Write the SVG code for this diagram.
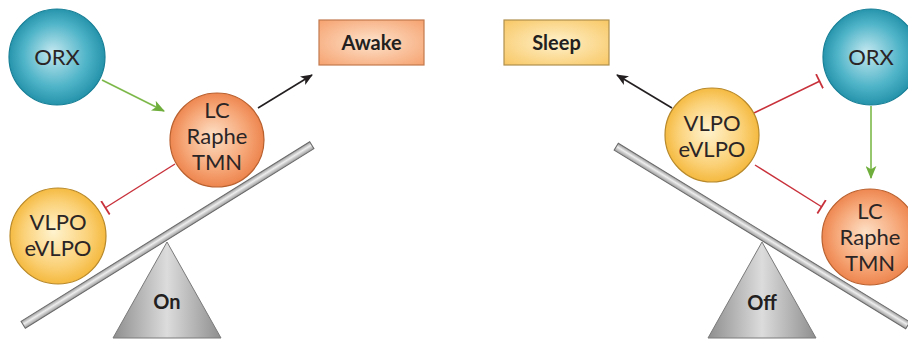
<svg xmlns="http://www.w3.org/2000/svg" width="908" height="342" viewBox="0 0 908 342">
<defs>
<radialGradient id="gTeal" cx="50%" cy="50%" r="55%" fx="45%" fy="45%">
<stop offset="0" stop-color="#c4e8f0"/><stop offset="0.6" stop-color="#4fb4c8"/><stop offset="1" stop-color="#1a8aa3"/>
</radialGradient>
<radialGradient id="gOrange" cx="50%" cy="50%" r="55%" fx="45%" fy="45%">
<stop offset="0" stop-color="#fde0c6"/><stop offset="0.6" stop-color="#f6a778"/><stop offset="1" stop-color="#eb7c43"/>
</radialGradient>
<radialGradient id="gYellow" cx="50%" cy="50%" r="55%" fx="45%" fy="45%">
<stop offset="0" stop-color="#fff3cf"/><stop offset="0.6" stop-color="#fbd27a"/><stop offset="1" stop-color="#f3b330"/>
</radialGradient>
<radialGradient id="gAwake" cx="50%" cy="50%" r="70%">
<stop offset="0" stop-color="#fde3cc"/><stop offset="1" stop-color="#f6a26f"/>
</radialGradient>
<radialGradient id="gSleep" cx="50%" cy="50%" r="70%">
<stop offset="0" stop-color="#fff1cb"/><stop offset="1" stop-color="#f8c764"/>
</radialGradient>
<linearGradient id="gTri" x1="0" y1="0" x2="1" y2="0">
<stop offset="0" stop-color="#8e8e8e"/><stop offset="0.5" stop-color="#dcdcdc"/><stop offset="1" stop-color="#8e8e8e"/>
</linearGradient>
<linearGradient id="gBeam" x1="0" y1="0" x2="0" y2="1">
<stop offset="0" stop-color="#9a9a9a"/><stop offset="0.45" stop-color="#eeeeee"/><stop offset="1" stop-color="#9a9a9a"/>
</linearGradient>
<marker id="arrBlack" viewBox="0 0 12 10" refX="11" refY="5" markerWidth="12" markerHeight="10" markerUnits="userSpaceOnUse" orient="auto">
<path d="M0,0 L12,5 L0,10 L3,5 Z" fill="#231f20"/>
</marker>
<marker id="arrGreen" viewBox="0 0 12 10" refX="11" refY="5" markerWidth="13" markerHeight="11" markerUnits="userSpaceOnUse" orient="auto">
<path d="M0,0 L12,5 L0,10 L3,5 Z" fill="#6fae3c"/>
</marker>
<marker id="barRed" viewBox="0 0 4 16" refX="2" refY="8" markerWidth="4" markerHeight="16" markerUnits="userSpaceOnUse" orient="auto">
<rect x="0.6" y="0" width="1.8" height="16" fill="#c8303a"/>
</marker>
</defs>
<style>
.node text{font-family:Lato,"Open Sans","Liberation Sans",sans-serif;font-size:22px;fill:#2b2526;text-anchor:middle}
.box text{font-family:Lato,"Open Sans","Liberation Sans",sans-serif;font-size:20px;font-weight:bold;fill:#231f20;text-anchor:middle}
.tri text{font-family:Lato,"Open Sans","Liberation Sans",sans-serif;font-size:20px;font-weight:bold;fill:#231f20;text-anchor:middle}
.teal{fill:url(#gTeal);stroke:#177f96;stroke-width:1.2}
.orange{fill:url(#gOrange);stroke:#b9602f;stroke-width:1.2}
.yellow{fill:url(#gYellow);stroke:#b8892a;stroke-width:1.2}
.beam{fill:url(#gBeam);stroke:#6a6a6a;stroke-width:1}
.tri polygon{fill:url(#gTri);stroke:#7a7a7a;stroke-width:1}
.act{stroke:#231f20;stroke-width:1.6;fill:none;marker-end:url(#arrBlack)}
.grn{stroke:#7cb84a;stroke-width:1.6;fill:none;marker-end:url(#arrGreen)}
.inh{stroke:#c8303a;stroke-width:1.4;fill:none;marker-end:url(#barRed)}
</style>

<!-- seesaws -->
<g id="seesaw-left">
<rect class="beam" x="-170" y="-4" width="340" height="8" transform="translate(167.5,235) rotate(-31.9)"/>
<g class="tri"><polygon points="167,242 113,338 221,338"/><text x="167" y="309">On</text></g>
</g>
<g id="seesaw-right">
<rect class="beam" x="-171" y="-4" width="342" height="8" transform="translate(762,236) rotate(31.5)"/>
<g class="tri"><polygon points="762,242 708,338 816,338"/><text x="762" y="310">Off</text></g>
</g>

<!-- connectors -->
<g id="connectors">
<line class="grn" x1="102" y1="80" x2="164" y2="111"/>
<line class="act" x1="258" y1="108" x2="312" y2="75"/>
<line class="inh" x1="175" y1="164" x2="105" y2="208"/>
<line class="act" x1="672" y1="108" x2="617" y2="75"/>
<line class="inh" x1="754" y1="113" x2="820" y2="81"/>
<line class="inh" x1="755" y1="165" x2="822" y2="207"/>
<line class="grn" x1="871" y1="106" x2="871" y2="178"/>
</g>

<!-- left nodes -->
<g id="orx-left" class="node"><circle class="teal" cx="57" cy="57" r="48"/><text x="57" y="65">ORX</text></g>
<g id="lc-left" class="node"><circle class="orange" cx="217" cy="140" r="47"/><text x="217" y="118">LC</text><text x="217" y="144">Raphe</text><text x="217" y="170">TMN</text></g>
<g id="vlpo-left" class="node"><circle class="yellow" cx="58" cy="236" r="48"/><text x="58" y="230">VLPO</text><text x="58" y="256">eVLPO</text></g>
<g id="awake" class="box"><rect x="319" y="20" width="105" height="45" fill="url(#gAwake)" stroke="#c27a4e" stroke-width="1.2"/><text x="371.5" y="50">Awake</text></g>

<!-- right nodes -->
<g id="sleep" class="box"><rect x="504" y="20" width="105" height="45" fill="url(#gSleep)" stroke="#b0904e" stroke-width="1.2"/><text x="556.5" y="50">Sleep</text></g>
<g id="vlpo-right" class="node"><circle class="yellow" cx="712" cy="135" r="47"/><text x="712" y="131">VLPO</text><text x="712" y="157">eVLPO</text></g>
<g id="orx-right" class="node"><circle class="teal" cx="871" cy="57" r="48"/><text x="871" y="65">ORX</text></g>
<g id="lc-right" class="node"><circle class="orange" cx="870" cy="237" r="48"/><text x="870" y="219">LC</text><text x="870" y="245">Raphe</text><text x="870" y="271">TMN</text></g>
</svg>
